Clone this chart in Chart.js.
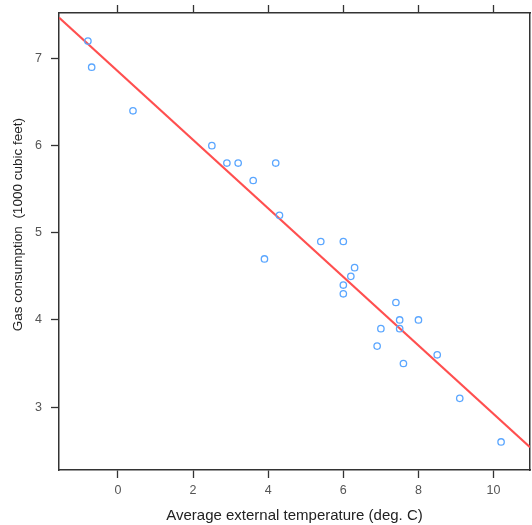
<!DOCTYPE html>
<html>
<head>
<meta charset="utf-8">
<script src="https://cdn.jsdelivr.net/npm/chart.js@4.4.1/dist/chart.umd.min.js"></script>
<style>
  html, body { margin: 0; padding: 0; background: #fff; }
  #wrap { width: 532px; height: 525px; }
  canvas { display: block; }
</style>
</head>
<body>
<div id="wrap"><canvas id="myChart" width="532" height="525"></canvas></div>
<script>
// whiteside gas data (before insulation)
const temperature = [-0.8, -0.7, 0.4, 2.5, 2.9, 3.2, 3.6, 3.9, 4.2, 4.3, 5.4, 6.0, 6.0, 6.0, 6.2, 6.3, 6.9, 7.0, 7.4, 7.5, 7.5, 7.6, 8.0, 8.5, 9.1, 10.2];
const gas = [7.2, 6.9, 6.4, 6.0, 5.8, 5.8, 5.6, 4.7, 5.8, 5.2, 4.9, 4.9, 4.3, 4.4, 4.5, 4.6, 3.7, 3.9, 4.2, 4.0, 3.9, 3.5, 4.0, 3.6, 3.1, 2.6];

// fitted line, end points
const fitX = [-1.57, 10.97];
const fitY = [7.47, 2.54];

const xTicks = [0, 2, 4, 6, 8, 10];
const yTicks = [3, 4, 5, 6, 7];
const xRange = [-1.57, 10.97];
const yRange = [2.278, 7.522];

const AXIS = "#333333";
const FAMILY = "'Liberation Sans', Arial, sans-serif";
const tickFont = { family: FAMILY, size: 12.5 };

const setTicks = (vals) => (scale) => {
  scale.ticks = vals.map((v) => ({ value: v }));
};

// fixed box size, no extra label padding
const fixSize = (w, h) => (s) => {
  if (w != null) s.width = w;
  if (h != null) s.height = h;
  s.paddingTop = s.paddingBottom = s.paddingLeft = s.paddingRight = 0;
};

const frame = (extra) => ({
  type: "linear",
  grid: { drawOnChartArea: false, drawTicks: true, tickLength: 8, color: AXIS, tickWidth: 1.3 },
  border: { display: true, color: AXIS, width: 1.5 },
  ...extra,
});

const ctx = document.getElementById("myChart").getContext("2d");
const myChart = new Chart(ctx, {
  type: "scatter",
  data: {
    datasets: [
      {
        label: "Gas",
        data: temperature.map((t, i) => ({ x: t, y: gas[i] })),
        pointStyle: "circle",
        pointRadius: 3.2,
        pointBorderWidth: 1.3,
        pointBorderColor: "#5aa6ff",
        pointBackgroundColor: "rgba(0,0,0,0)",
        showLine: false,
        xAxisID: "x",
        yAxisID: "y",
      },
      {
        label: "Fit",
        data: fitX.map((t, i) => ({ x: t, y: fitY[i] })),
        showLine: true,
        borderColor: "#ff4f4f",
        borderWidth: 2,
        pointRadius: 0,
        xAxisID: "x",
        yAxisID: "y",
      },
    ],
  },
  options: {
    responsive: false,
    animation: false,
    layout: { padding: 0, autoPadding: false },
    plugins: { legend: { display: false }, tooltip: { enabled: false } },
    scales: {
      x: frame({
        position: "bottom",
        min: xRange[0],
        max: xRange[1],
        afterBuildTicks: setTicks(xTicks),
        afterFit: fixSize(null, 55),
        ticks: { font: tickFont, color: "#555555", padding: 5, maxRotation: 0 },
        title: {
          display: true,
          text: "Average external temperature (deg. C)",
          font: { family: FAMILY, size: 15 },
          color: "#222222",
          padding: { top: 0, bottom: 0 },
        },
      }),
      x2: frame({
        position: "top",
        min: xRange[0],
        max: xRange[1],
        afterBuildTicks: setTicks(xTicks),
        afterFit: fixSize(null, 13),
        ticks: { display: false },
      }),
      y: frame({
        position: "left",
        min: yRange[0],
        max: yRange[1],
        afterBuildTicks: setTicks(yTicks),
        afterFit: fixSize(59, null),
        ticks: { font: tickFont, color: "#555555", padding: 9 },
        title: {
          display: true,
          text: "         Gas consumption  (1000 cubic feet)",
          font: { family: FAMILY, size: 13.5 },
          color: "#222222",
          padding: { top: 10, bottom: 0 },
        },
      }),
      y2: frame({
        position: "right",
        min: yRange[0],
        max: yRange[1],
        afterBuildTicks: setTicks(yTicks),
        afterFit: fixSize(2, null),
        grid: { drawOnChartArea: false, drawTicks: false },
        ticks: { display: false },
      }),
    },
  },
});
</script>
</body>
</html>
